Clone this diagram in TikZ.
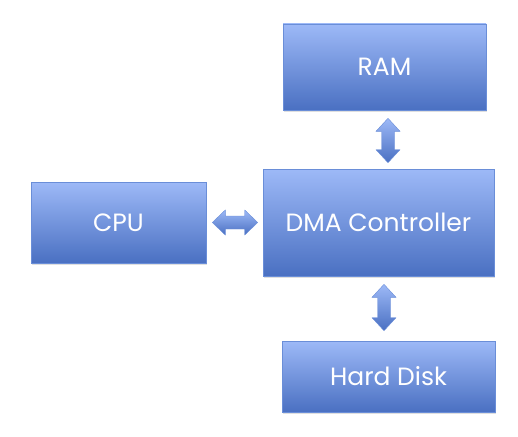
\documentclass[tikz,border=0pt]{standalone}
\usepackage{fontspec}
\setmainfont{Poppins}
\usetikzlibrary{calc,shadows}
\definecolor{boxtop}{HTML}{9DB9F7}
\definecolor{boxbot}{HTML}{4A70C2}
\definecolor{boxline}{HTML}{6A8ED8}
\tikzset{
  box/.style={draw=boxline, line width=0.6pt, top color=boxtop, bottom color=boxbot,
    text=white, font=\fontsize{25}{28}\selectfont, inner sep=0pt,
    drop shadow={opacity=0.25, shadow xshift=1pt, shadow yshift=-1.5pt}},
  blockarrow/.style={draw=boxline, line width=0.4pt, top color=boxtop, bottom color=boxbot, line join=miter}
}
\newcommand{\varrow}[2]{\path[blockarrow] let \p1=#1, \p2=#2 in
  (\x1,\y1) -- (\x1+12pt,\y1-13pt) -- (\x1+6.5pt,\y1-13pt) -- (\x1+6.5pt,\y2+13pt) -- (\x1+12pt,\y2+13pt)
  -- (\x1,\y2) -- (\x1-12pt,\y2+13pt) -- (\x1-6.5pt,\y2+13pt) -- (\x1-6.5pt,\y1-13pt) -- (\x1-12pt,\y1-13pt) -- cycle;}
\newcommand{\harrow}[2]{\path[blockarrow] let \p1=#1, \p2=#2 in
  (\x1,\y1) -- (\x1+13pt,\y1+12.5pt) -- (\x1+13pt,\y1+6.5pt) -- (\x2-13pt,\y1+6.5pt) -- (\x2-13pt,\y1+12.5pt)
  -- (\x2,\y1) -- (\x2-13pt,\y1-12.5pt) -- (\x2-13pt,\y1-6.5pt) -- (\x1+13pt,\y1-6.5pt) -- (\x1+13pt,\y1-12.5pt) -- cycle;}
\begin{document}
\begin{tikzpicture}[x=1pt,y=-1pt]
\useasboundingbox (0,0) rectangle (518,436);
\node[box, minimum width=203pt, minimum height=86pt] (ram) at (384.5,67) {RAM};
\node[box, minimum width=175pt, minimum height=81pt] (cpu) at (118.5,222.5) {CPU};
\node[box, minimum width=231pt, minimum height=107pt] (dma) at (378.5,222.5) {DMA Controller};
\node[box, minimum width=213pt, minimum height=71pt] (hd) at (388.5,376.5) {Hard Disk};
\coordinate (a1) at ($(ram.south)+(3.5,8)$);
\coordinate (a2) at ($(dma.north)+(9.5,-6)$);
\coordinate (b1) at ($(dma.south)+(5.5,8)$);
\coordinate (b2) at ($(hd.north)+(-4.5,-10)$);
\coordinate (c1) at ($(cpu.east)+(6,0)$);
\coordinate (c2) at ($(dma.west)+(-5,0)$);
\varrow{(a1)}{(a2)}
\varrow{(b1)}{(b2)}
\harrow{(c1)}{(c2)}
\end{tikzpicture}
\end{document}
